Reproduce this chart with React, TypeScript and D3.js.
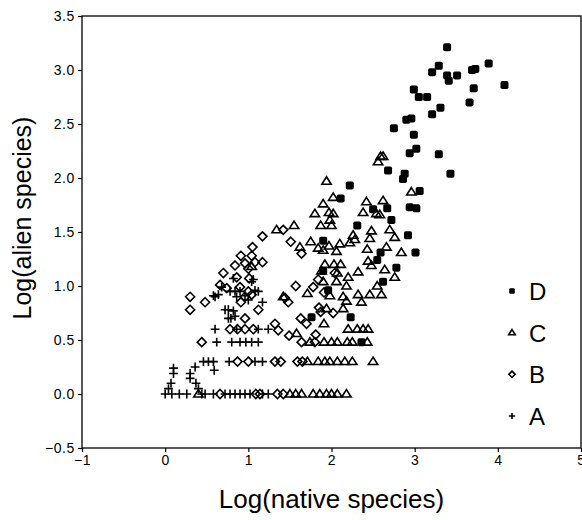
import * as d3 from "d3";
import { useEffect, useRef } from "react";

// [log(native species), log(alien species)]
const groupA: [number, number][] = [
  [0.0, 0], [0.08, 0], [0.17, 0], [0.26, 0], [0.44, 0], [0.48, 0], [0.58, 0], [0.72, 0],
  [0.78, 0], [0.84, 0], [0.9, 0], [0.96, 0], [1.02, 0], [1.17, 0], [1.24, 0],
  [0.1, 0.24], [0.1, 0.19], [0.07, 0.1], [0.04, 0.05], [0.3, 0.19], [0.3, 0.145],
  [0.36, 0.25], [0.37, 0.1], [0.4, 0.05],
  [0.46, 0.3], [0.52, 0.3], [0.58, 0.3], [0.59, 0.22], [0.77, 0.3], [1.08, 0.3], [1.17, 0.3],
  [0.62, 0.48], [0.8, 0.48], [0.9, 0.48], [0.97, 0.48], [1.04, 0.48], [1.12, 0.48],
  [0.6, 0.6], [0.86, 0.6], [1.12, 0.6], [1.24, 0.6],
  [0.6, 0.9], [0.68, 0.99], [0.82, 1.07], [0.78, 0.95], [0.84, 0.95], [0.9, 0.95],
  [0.86, 0.9], [1.04, 1.04], [1.08, 0.96], [1.12, 0.95], [1.17, 0.85],
  [0.72, 0.78], [0.76, 0.78], [0.82, 0.77], [0.76, 0.7], [0.79, 0.7], [0.84, 0.72],
  [0.58, 0.91], [0.64, 0.92], [0.96, 0.91], [1.0, 0.87], [1.06, 1.06],
];

const groupB: [number, number][] = [
  [1.17, 1.46], [1.05, 1.36], [0.91, 1.28], [1.04, 1.28], [0.84, 1.19], [0.96, 1.21],
  [1.08, 1.22], [1.17, 1.22], [1.0, 1.16], [0.7, 1.12], [0.86, 1.08], [1.01, 1.07],
  [0.66, 1.01], [0.74, 0.98], [0.9, 0.99], [1.0, 0.95], [1.04, 0.92], [0.96, 0.9], [0.91, 0.85],
  [0.3, 0.9], [0.48, 0.85], [0.3, 0.78], [1.12, 0.78], [0.96, 0.7],
  [1.42, 1.52], [1.51, 1.41], [1.64, 1.3], [1.57, 1.0], [1.78, 0.99],
  [1.32, 0.65], [1.36, 0.59], [1.49, 0.54], [1.63, 0.7], [1.81, 0.55], [1.85, 0.8],
  [1.87, 0.76], [1.7, 0.65], [1.44, 0.89], [1.48, 0.85], [2.02, 0.75], [1.91, 0.94],
  [1.84, 1.06], [2.04, 1.12],
  [0.78, 0.6], [0.87, 0.6], [0.96, 0.6], [1.06, 0.6],
  [0.44, 0.48], [1.64, 0.48], [1.8, 0.48],
  [0.87, 0.3], [1.0, 0.3], [1.32, 0.3], [1.39, 0.3], [1.59, 0.3], [1.65, 0.3],
  [0.66, 0], [1.09, 0], [1.14, 0], [1.35, 0], [1.42, 0],
];

const groupC: [number, number][] = [
  [2.59, 2.2], [2.62, 2.2], [2.56, 2.15],
  [1.94, 1.97], [2.02, 1.82], [1.9, 1.76], [1.8, 1.67], [1.97, 1.68], [2.02, 1.67],
  [1.98, 1.61], [1.87, 1.56], [2.0, 1.56],
  [2.42, 1.78], [2.62, 1.79], [2.38, 1.68], [2.54, 1.67], [2.58, 1.66], [2.96, 1.87],
  [2.7, 1.52], [2.76, 1.45], [2.48, 1.51], [2.46, 1.44], [2.26, 1.47], [2.28, 1.43], [2.22, 1.4],
  [1.55, 1.56], [1.34, 1.52], [1.62, 1.36], [1.75, 1.41], [1.84, 1.35], [1.9, 1.33],
  [1.97, 1.37], [2.1, 1.39], [2.06, 1.32],
  [2.43, 1.34], [2.66, 1.36], [2.84, 1.31], [2.44, 1.23], [2.48, 1.19], [2.64, 1.15],
  [2.76, 1.08], [2.55, 1.0],
  [2.32, 1.13], [2.2, 1.08], [1.92, 1.2], [2.03, 1.2], [2.11, 1.2], [1.88, 1.14],
  [2.07, 1.12], [1.9, 1.04], [2.06, 1.04], [2.18, 1.0],
  [1.71, 0.93], [1.42, 0.9], [1.98, 0.91], [2.14, 0.9], [2.32, 0.92], [2.46, 0.92],
  [2.6, 0.92], [2.18, 0.86], [2.36, 0.85], [1.94, 0.79], [2.14, 0.79],
  [1.91, 0.65], [1.58, 0.56], [1.04, 1.18],
  [2.2, 0.6], [2.31, 0.6], [2.38, 0.6], [2.44, 0.6],
  [1.74, 0.48], [1.91, 0.48], [2.0, 0.48], [2.07, 0.48], [2.19, 0.48], [2.25, 0.48], [2.43, 0.48],
  [1.71, 0.3], [1.84, 0.3], [1.92, 0.3], [1.98, 0.3], [2.07, 0.3], [2.16, 0.3], [2.25, 0.3], [2.5, 0.3],
  [0.4, 0], [1.5, 0], [1.57, 0], [1.64, 0], [1.78, 0], [1.86, 0], [1.94, 0], [2.0, 0],
  [2.07, 0], [2.18, 0],
];

const groupD: [number, number][] = [
  [3.39, 3.21], [3.29, 3.04], [3.21, 2.98], [3.39, 2.95], [3.51, 2.95], [3.41, 2.9],
  [3.69, 3.0], [3.73, 3.01], [3.89, 3.06], [4.08, 2.86], [3.71, 2.83], [3.66, 2.7],
  [2.99, 2.82], [3.05, 2.75], [3.15, 2.75], [3.31, 2.65], [3.21, 2.59], [2.96, 2.55],
  [2.9, 2.54], [2.75, 2.46], [2.99, 2.4], [3.02, 2.27], [2.94, 2.23], [3.29, 2.22],
  [2.68, 2.07], [2.88, 2.04], [2.86, 1.99], [3.43, 2.04], [3.06, 1.88], [2.67, 1.72],
  [2.94, 1.73], [3.02, 1.72], [2.22, 1.93], [2.11, 1.81], [2.5, 1.71], [2.72, 1.61],
  [2.31, 1.56], [2.92, 1.47], [3.01, 1.31], [2.59, 1.31], [2.55, 1.24], [2.78, 1.17],
  [2.62, 1.04], [2.23, 0.71], [1.76, 0.71], [1.9, 1.42], [2.36, 0.48], [1.9, 1.14], [1.96, 0.96],
];

const xTicks = [-1, 0, 1, 2, 3, 4, 5];
const yTicks = [-0.5, 0, 0.5, 1, 1.5, 2, 2.5, 3, 3.5];
const legendLabels = ["D", "C", "B", "A"];

const W = 582;
const H = 520;
const M = { left: 82, right: 1, top: 16, bottom: 72 };
const FONT = "'Liberation Sans', Arial, sans-serif";

type Kind = "A" | "B" | "C" | "D";

const Marker = ({ kind, x, y, s = 1 }: { kind: Kind; x: number; y: number; s?: number }) => {
  const sw = 1.6;
  if (kind === "A") {
    const r = 4.4 * s;
    return (
      <path
        d={`M${x - r},${y}H${x + r}M${x},${y - r}V${y + r}`}
        stroke="#000"
        strokeWidth={sw}
        fill="none"
      />
    );
  }
  if (kind === "B") {
    const r = 4.5 * s;
    return (
      <path
        d={`M${x},${y - r}L${x + r},${y}L${x},${y + r}L${x - r},${y}Z`}
        stroke="#000"
        strokeWidth={sw}
        fill="none"
      />
    );
  }
  if (kind === "C") {
    const r = 4.7 * s;
    const h = 7.4 * s;
    return (
      <path
        d={`M${x},${y - h * 0.6}L${x + r},${y + h * 0.4}L${x - r},${y + h * 0.4}Z`}
        stroke="#000"
        strokeWidth={sw}
        fill="none"
      />
    );
  }
  const r = 4 * s;
  return <rect x={x - r} y={y - r} width={2 * r} height={2 * r} rx={1.8 * s} fill="#000" />;
};

const App = () => {
  const xAxisRef = useRef<SVGGElement | null>(null);
  const yAxisRef = useRef<SVGGElement | null>(null);

  const xScale = d3.scaleLinear().domain([-1, 5]).range([M.left, W - M.right]);
  const yScale = d3.scaleLinear().domain([-0.5, 3.5]).range([H - M.bottom, M.top]);

  useEffect(() => {
    if (!xAxisRef.current || !yAxisRef.current) return;
    const xa = d3
      .axisBottom(xScale)
      .tickValues(xTicks)
      .tickFormat(d3.format("d") as any)
      .tickSizeInner(4)
      .tickSizeOuter(0)
      .tickPadding(3);
    const ya = d3
      .axisLeft(yScale)
      .tickValues(yTicks)
      .tickFormat(d3.format(".1f") as any)
      .tickSizeInner(4)
      .tickSizeOuter(0)
      .tickPadding(3);
    const gx = d3.select(xAxisRef.current).call(xa);
    const gy = d3.select(yAxisRef.current).call(ya);
    [gx, gy].forEach((g) => {
      g.select(".domain").remove();
      g.selectAll("line").attr("stroke", "#000").attr("stroke-width", 1.2);
      g.selectAll("text")
        .attr("fill", "#000")
        .style("font-family", FONT)
        .style("font-size", "14px")
        .style("letter-spacing", "0.6px");
    });
  }, []);

  const groups: { kind: Kind; data: [number, number][] }[] = [
    { kind: "A", data: groupA },
    { kind: "B", data: groupB },
    { kind: "C", data: groupC },
    { kind: "D", data: groupD },
  ];

  const legendY = d3.scalePoint<string>().domain(legendLabels).range([291, 416]);

  return (
    <svg
      width={W}
      height={H}
      style={{ position: "absolute", left: 0, top: 0, background: "#fff" }}
    >
      <rect x={0} y={0} width={W} height={H} fill="#fff" />
      <rect
        x={M.left}
        y={M.top}
        width={W - M.left - M.right}
        height={H - M.top - M.bottom}
        fill="none"
        stroke="#000"
        strokeWidth={1.3}
      />
      <g ref={xAxisRef} transform={`translate(0,${H - M.bottom})`} />
      <g ref={yAxisRef} transform={`translate(${M.left},0)`} />

      {groups.map((g) =>
        g.data.map((d, i) => (
          <Marker key={g.kind + i} kind={g.kind} x={xScale(d[0])} y={yScale(d[1])} />
        ))
      )}

      {legendLabels.map((l) => (
        <g key={l}>
          <Marker kind={l as Kind} x={512} y={legendY(l)!} s={0.7} />
          <text
            x={529}
            y={legendY(l)! + 9}
            fontFamily={FONT}
            fontSize={24}
            fill="#000"
          >
            {l}
          </text>
        </g>
      ))}

      <text
        x={(M.left + W - M.right) / 2}
        y={508}
        textAnchor="middle"
        fontFamily={FONT}
        fontSize={26}
        fill="#000"
      >
        Log(native species)
      </text>
      <text
        transform={`translate(31,218) rotate(-90)`}
        textAnchor="middle"
        fontFamily={FONT}
        fontSize={25}
        fill="#000"
      >
        Log(alien species)
      </text>
    </svg>
  );
};

export default App;
